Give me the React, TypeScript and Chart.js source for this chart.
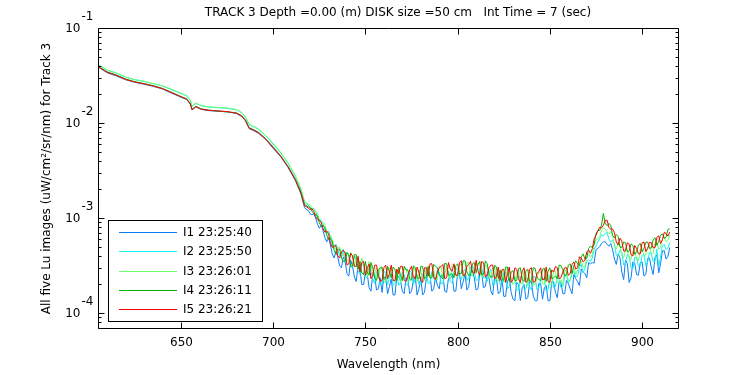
import React, { useEffect, useRef } from "react";
import { Chart, registerables } from "chart.js";

Chart.register(...registerables);

// ---------- data: main grid ----------
const WAVELENGTHS = [
  605, 610, 615, 620, 625, 630, 635, 640, 645, 650, 653, 655, 656, 658, 661, 665,
  670, 675, 680, 683, 685, 687, 689, 692, 696, 700, 704, 708, 712, 715, 717,
  719, 721, 723, 725, 727, 729, 731, 733, 735, 737,
  739, 741, 743, 745, 747, 749, 751, 753, 755, 757,
  759, 761, 763, 765, 767, 769, 771, 773, 775, 777,
  779, 781, 783, 785, 787, 789, 791, 793, 795, 797,
  799, 801, 803, 805, 807, 809, 811, 813, 815, 817,
  819, 821, 823, 825, 827, 829, 831, 833, 835, 837,
  839, 841, 843, 845, 847, 849, 851, 853, 855, 857,
  859, 861, 863, 865, 867, 869, 871, 873, 875, 877,
  879, 881, 883, 885, 887, 889, 891, 893, 895, 897,
  899, 901, 903, 905, 907, 909, 911, 913, 915,
];

const I1_LU = [
  0.0390, 0.0338, 0.0312, 0.0285, 0.0268, 0.0256, 0.0243, 0.0228, 0.0206, 0.0187, 0.0177, 0.0158, 0.0137, 0.0148, 0.0139, 0.0135,
  0.0133, 0.0131, 0.0126, 0.0117, 0.0105, 0.0087, 0.0084, 0.0078, 0.0067, 0.0054, 0.00443, 0.00342, 0.00248, 0.00180, 0.00128,
  1.2e-3, 1.08e-3, 1.0e-3, 7.8e-4, 7.35e-4, 5.6e-4, 5.2e-4, 3.8e-4, 3.9e-4, 3.0e-4,
  3.55e-4, 2.45e-4, 3.1e-4, 2.15e-4, 2.95e-4, 2.0e-4, 2.55e-4, 1.7e-4, 2.5e-4, 1.8e-4,
  1.65e-4, 2.35e-4, 1.9e-4, 1.55e-4, 2.4e-4, 2.2e-4, 1.6e-4, 2.3e-4, 1.7e-4, 2.45e-4,
  1.8e-4, 1.55e-4, 2.3e-4, 2.5e-4, 1.8e-4, 1.95e-4, 2.5e-4, 1.7e-4, 2.3e-4, 2.5e-4,
  1.7e-4, 2.6e-4, 2.15e-4, 1.75e-4, 2.7e-4, 2.35e-4, 1.8e-4, 2.65e-4, 1.9e-4, 2.35e-4,
  1.55e-4, 2.35e-4, 1.65e-4, 1.5e-4, 2.15e-4, 1.65e-4, 1.35e-4, 2.0e-4, 1.85e-4, 1.4e-4,
  2.1e-4, 1.5e-4, 1.35e-4, 2.05e-4, 1.85e-4, 1.35e-4, 2.15e-4, 1.65e-4, 2.15e-4, 1.6e-4,
  2.2e-4, 1.8e-4, 2.55e-4, 2.15e-4, 2.9e-4, 2.6e-4, 3.4e-4, 3.4e-4, 4.65e-4, 5.0e-4,
  5.6e-4, 5.3e-4, 5.4e-4, 3.7e-4, 4.2e-4, 2.7e-4, 3.6e-4, 2.1e-4, 3.45e-4, 2.55e-4,
  3.4e-4, 2.45e-4, 3.75e-4, 3.0e-4, 3.85e-4, 2.65e-4, 4.5e-4, 3.7e-4, 4.9e-4,
];

const I2_LU = [
  0.0408, 0.0360, 0.0335, 0.0303, 0.0285, 0.0274, 0.0259, 0.0245, 0.0224, 0.0204, 0.0194, 0.0174, 0.0150, 0.0161, 0.0152, 0.0147,
  0.0145, 0.0143, 0.0138, 0.0128, 0.0115, 0.0096, 0.0092, 0.0086, 0.0073, 0.0060, 0.00486, 0.00376, 0.00275, 0.00200, 0.00146,
  1.37e-3, 1.25e-3, 1.16e-3, 9.3e-4, 8.7e-4, 6.9e-4, 6.4e-4, 4.8e-4, 4.7e-4, 3.9e-4,
  3.4e-4, 4.0e-4, 3.1e-4, 3.55e-4, 2.55e-4, 3.25e-4, 2.35e-4, 2.75e-4, 2.05e-4, 2.7e-4,
  2.0e-4, 2.65e-4, 2.4e-4, 1.95e-4, 2.75e-4, 2.1e-4, 2.55e-4, 1.95e-4, 2.7e-4, 2.3e-4,
  2.0e-4, 2.6e-4, 2.75e-4, 2.1e-4, 2.3e-4, 2.85e-4, 2.05e-4, 2.65e-4, 2.75e-4, 2.05e-4,
  2.9e-4, 2.35e-4, 2.75e-4, 2.2e-4, 3.05e-4, 2.85e-4, 2.25e-4, 3.1e-4, 2.4e-4, 2.65e-4,
  1.95e-4, 2.6e-4, 2.0e-4, 2.65e-4, 1.8e-4, 2.2e-4, 2.4e-4, 1.75e-4, 2.3e-4, 1.8e-4,
  1.9e-4, 2.45e-4, 1.75e-4, 2.25e-4, 2.35e-4, 1.75e-4, 2.5e-4, 1.9e-4, 2.25e-4, 1.9e-4,
  2.6e-4, 2.25e-4, 2.75e-4, 2.45e-4, 3.25e-4, 2.95e-4, 3.65e-4, 3.8e-4, 5.1e-4, 6.1e-4,
  6.5e-4, 7.0e-4, 5.6e-4, 5.4e-4, 4.05e-4, 4.35e-4, 3.35e-4, 4.0e-4, 2.95e-4, 3.85e-4,
  3.15e-4, 4.15e-4, 3.45e-4, 4.2e-4, 3.5e-4, 3.1e-4, 5.15e-4, 4.65e-4, 5.55e-4,
];

const I3_LU = [
  0.0412, 0.0362, 0.0336, 0.0305, 0.0286, 0.0276, 0.0260, 0.0246, 0.0226, 0.0206, 0.0195, 0.0175, 0.0151, 0.0162, 0.0153, 0.0148,
  0.0146, 0.0144, 0.0139, 0.0129, 0.0116, 0.0097, 0.0093, 0.0087, 0.0074, 0.0061, 0.00492, 0.00382, 0.00280, 0.00205, 0.00150,
  1.40e-3, 1.29e-3, 1.18e-3, 9.7e-4, 9.0e-4, 7.3e-4, 6.6e-4, 5.0e-4, 4.9e-4, 4.2e-4,
  4.4e-4, 3.6e-4, 3.9e-4, 4.0e-4, 2.9e-4, 3.35e-4, 2.45e-4, 3.3e-4, 2.65e-4, 2.3e-4,
  2.9e-4, 2.15e-4, 3.0e-4, 2.25e-4, 2.6e-4, 2.1e-4, 3.05e-4, 2.4e-4, 2.2e-4, 2.9e-4,
  2.75e-4, 2.15e-4, 3.0e-4, 2.45e-4, 2.8e-4, 2.25e-4, 3.05e-4, 2.65e-4, 2.35e-4, 3.2e-4,
  2.5e-4, 3.2e-4, 2.4e-4, 3.4e-4, 2.55e-4, 3.0e-4, 3.3e-4, 2.4e-4, 3.15e-4, 2.4e-4,
  3.0e-4, 2.25e-4, 2.6e-4, 2.1e-4, 2.95e-4, 2.3e-4, 2.1e-4, 2.75e-4, 2.05e-4, 2.65e-4,
  2.75e-4, 2.0e-4, 2.35e-4, 2.7e-4, 2.0e-4, 2.6e-4, 2.0e-4, 2.75e-4, 2.1e-4, 1.95e-4,
  2.7e-4, 2.2e-4, 3.0e-4, 2.85e-4, 3.5e-4, 3.1e-4, 4.25e-4, 4.15e-4, 5.9e-4, 6.3e-4,
  7.9e-4, 7.2e-4, 7.2e-4, 5.15e-4, 5.5e-4, 4.1e-4, 4.9e-4, 3.8e-4, 4.5e-4, 3.8e-4,
  4.7e-4, 4.0e-4, 4.95e-4, 4.2e-4, 5.5e-4, 4.7e-4, 6.05e-4, 5.6e-4, 6.6e-4,
];

const I4_LU = [
  0.0395, 0.0345, 0.0320, 0.0290, 0.0272, 0.0260, 0.0247, 0.0231, 0.0210, 0.0190, 0.0180, 0.0161, 0.0140, 0.0150, 0.0141, 0.0137,
  0.0134, 0.0131, 0.0128, 0.0119, 0.0107, 0.0089, 0.0086, 0.0080, 0.0068, 0.0056, 0.00452, 0.00350, 0.00256, 0.00188, 0.00138,
  1.31e-3, 1.18e-3, 1.10e-3, 8.9e-4, 8.4e-4, 6.65e-4, 6.1e-4, 4.6e-4, 4.7e-4, 3.8e-4,
  3.5e-4, 4.1e-4, 3.1e-4, 4.1e-4, 3.5e-4, 2.55e-4, 2.7e-4, 3.4e-4, 2.35e-4, 2.85e-4,
  3.05e-4, 2.35e-4, 2.7e-4, 3.05e-4, 2.2e-4, 2.5e-4, 3.1e-4, 2.85e-4, 2.25e-4, 3.0e-4,
  2.3e-4, 3.1e-4, 2.4e-4, 2.35e-4, 3.25e-4, 3.0e-4, 2.4e-4, 3.35e-4, 2.5e-4, 2.6e-4,
  3.15e-4, 2.6e-4, 3.55e-4, 2.7e-4, 2.5e-4, 3.4e-4, 3.25e-4, 2.55e-4, 3.55e-4, 2.55e-4,
  2.4e-4, 3.05e-4, 2.85e-4, 2.2e-4, 3.05e-4, 2.7e-4, 2.2e-4, 2.95e-4, 2.25e-4, 2.8e-4,
  2.15e-4, 3.0e-4, 2.4e-4, 2.2e-4, 2.95e-4, 2.75e-4, 2.3e-4, 2.45e-4, 3.2e-4, 2.85e-4,
  2.55e-4, 3.3e-4, 3.15e-4, 3.3e-4, 3.9e-4, 3.7e-4, 4.8e-4, 4.9e-4, 6.9e-4, 7.4e-4,
  1.12e-3, 8.3e-4, 8.4e-4, 6.2e-4, 6.4e-4, 4.9e-4, 5.5e-4, 4.5e-4, 5.15e-4, 4.4e-4,
  5.4e-4, 4.8e-4, 5.6e-4, 4.85e-4, 6.2e-4, 5.7e-4, 6.8e-4, 6.3e-4, 7.7e-4,
];

const I5_LU = [
  0.0392, 0.0342, 0.0318, 0.0288, 0.0270, 0.0259, 0.0245, 0.0230, 0.0208, 0.0189, 0.0179, 0.0160, 0.0138, 0.0149, 0.0140, 0.0136,
  0.0134, 0.0132, 0.0127, 0.0118, 0.0106, 0.0088, 0.0085, 0.0079, 0.00675, 0.0055, 0.00448, 0.00347, 0.00253, 0.00185, 0.00135,
  1.28e-3, 1.26e-3, 1.04e-3, 9.5e-4, 7.8e-4, 7.3e-4, 5.5e-4, 5.1e-4, 4.0e-4, 4.4e-4,
  4.3e-4, 3.3e-4, 4.0e-4, 3.1e-4, 2.7e-4, 3.5e-4, 3.0e-4, 2.3e-4, 3.2e-4, 2.5e-4,
  2.2e-4, 3.2e-4, 2.6e-4, 2.2e-4, 2.9e-4, 3.1e-4, 2.2e-4, 2.5e-4, 3.1e-4, 2.3e-4,
  2.7e-4, 2.1e-4, 3.0e-4, 3.3e-4, 2.4e-4, 2.7e-4, 3.1e-4, 2.3e-4, 3.4e-4, 2.75e-4,
  2.5e-4, 3.4e-4, 2.5e-4, 3.1e-4, 3.5e-4, 2.6e-4, 2.8e-4, 3.5e-4, 2.4e-4, 3.0e-4,
  3.2e-4, 2.4e-4, 2.2e-4, 2.9e-4, 2.55e-4, 2.1e-4, 3.0e-4, 2.3e-4, 2.75e-4, 2.1e-4,
  2.9e-4, 2.1e-4, 2.6e-4, 3.0e-4, 2.25e-4, 2.15e-4, 2.85e-4, 3.1e-4, 2.3e-4, 2.7e-4,
  3.0e-4, 2.6e-4, 3.45e-4, 3.0e-4, 3.8e-4, 3.6e-4, 4.6e-4, 4.75e-4, 6.6e-4, 8.0e-4,
  8.4e-4, 9.5e-4, 7.6e-4, 7.0e-4, 5.2e-4, 5.7e-4, 4.5e-4, 5.3e-4, 4.0e-4, 4.8e-4,
  4.2e-4, 5.6e-4, 4.75e-4, 5.5e-4, 4.9e-4, 6.5e-4, 5.9e-4, 6.9e-4, 7.1e-4,
];

// ---------- data: in-between samples of the noisy part ----------
const WAVELENGTHS_B = [
  720, 722, 724, 726, 728, 730, 732, 734, 736, 738,
  740, 742, 744, 746, 748, 750, 752, 754, 756, 758,
  760, 762, 764, 766, 768, 770, 772, 774, 776, 778,
  780, 782, 784, 786, 788, 790, 792, 794, 796, 798,
  800, 802, 804, 806, 808, 810, 812, 814, 816, 818,
  820, 822, 824, 826, 828, 830, 832, 834, 836, 838,
  840, 842, 844, 846, 848, 850, 852, 854, 856, 858,
  860, 862, 864, 866, 868, 870, 872, 874, 876, 878,
  880, 882, 884, 886, 888, 890, 892, 894, 896, 898,
  900, 902, 904, 906, 908, 910, 912, 914,
];

const I1_LU_B = [
  1.11e-3, 1.11e-3, 8.6e-4, 8.45e-4, 6.25e-4, 6.25e-4, 4.2e-4, 4.5e-4, 3.15e-4, 3.9e-4,
  2.6e-4, 3.6e-4, 2.4e-4, 3.2e-4, 2.0e-4, 2.7e-4, 1.85e-4, 2.6e-4, 1.75e-4, 2.35e-4,
  2.4e-4, 1.6e-4, 2.3e-4, 1.55e-4, 2.45e-4, 1.7e-4, 2.35e-4, 1.6e-4, 2.2e-4, 1.55e-4,
  2.4e-4, 1.65e-4, 2.5e-4, 1.7e-4, 2.4e-4, 1.8e-4, 2.5e-4, 1.65e-4, 2.35e-4, 1.7e-4,
  2.65e-4, 1.8e-4, 2.6e-4, 1.9e-4, 2.75e-4, 1.75e-4, 2.65e-4, 1.85e-4, 2.55e-4, 1.7e-4,
  2.4e-4, 1.6e-4, 2.3e-4, 1.5e-4, 2.35e-4, 1.4e-4, 2.1e-4, 1.35e-4, 2.0e-4, 1.45e-4,
  2.15e-4, 1.35e-4, 2.05e-4, 1.4e-4, 1.95e-4, 1.35e-4, 2.15e-4, 1.45e-4, 2.1e-4, 1.6e-4,
  2.05e-4, 1.6e-4, 2.3e-4, 1.95e-4, 2.7e-4, 2.35e-4, 3.3e-4, 3.35e-4, 4.8e-4, 5.4e-4,
  5.65e-4, 5.05e-4, 4.65e-4, 3.25e-4, 3.85e-4, 2.25e-4, 3.3e-4, 2.35e-4, 3.35e-4, 2.5e-4,
  3.45e-4, 2.55e-4, 3.8e-4, 2.55e-4, 4.1e-4, 3.3e-4, 4.55e-4, 3.95e-4,
];

const I2_LU_B = [
  1.29e-3, 1.26e-3, 1.01e-3, 9.6e-4, 7.5e-4, 7.3e-4, 5.2e-4, 5.3e-4, 4.0e-4, 4.7e-4,
  4.35e-4, 3.05e-4, 4.0e-4, 2.8e-4, 3.3e-4, 2.4e-4, 3.15e-4, 2.3e-4, 2.75e-4, 2.0e-4,
  2.75e-4, 2.0e-4, 2.6e-4, 2.05e-4, 1.95e-4, 2.7e-4, 2.05e-4, 2.8e-4, 2.0e-4, 2.55e-4,
  2.0e-4, 2.75e-4, 2.05e-4, 2.75e-4, 2.15e-4, 2.7e-4, 2.05e-4, 2.9e-4, 2.15e-4, 2.75e-4,
  2.95e-4, 2.25e-4, 2.9e-4, 2.35e-4, 3.1e-4, 2.2e-4, 3.0e-4, 2.35e-4, 2.15e-4, 2.9e-4,
  2.0e-4, 2.65e-4, 2.05e-4, 2.7e-4, 1.9e-4, 2.35e-4, 1.75e-4, 2.45e-4, 1.8e-4, 2.3e-4,
  1.75e-4, 2.4e-4, 1.85e-4, 2.25e-4, 1.7e-4, 2.5e-4, 1.85e-4, 2.45e-4, 1.85e-4, 2.4e-4,
  2.05e-4, 2.6e-4, 2.4e-4, 3.0e-4, 2.65e-4, 3.5e-4, 3.5e-4, 4.7e-4, 5.6e-4, 6.65e-4,
  6.9e-4, 6.0e-4, 5.85e-4, 4.05e-4, 4.6e-4, 3.2e-4, 4.15e-4, 3.0e-4, 3.85e-4, 3.1e-4,
  4.05e-4, 3.15e-4, 4.35e-4, 3.5e-4, 4.7e-4, 3.85e-4, 5.3e-4, 4.85e-4,
];

const I3_LU_B = [
  1.38e-3, 1.19e-3, 1.12e-3, 8.9e-4, 8.5e-4, 6.55e-4, 6.0e-4, 4.6e-4, 4.95e-4, 3.95e-4,
  3.6e-4, 4.35e-4, 3.05e-4, 3.85e-4, 3.8e-4, 2.7e-4, 3.5e-4, 2.4e-4, 3.0e-4, 3.0e-4,
  2.15e-4, 3.0e-4, 2.5e-4, 2.15e-4, 2.95e-4, 2.25e-4, 2.9e-4, 2.2e-4, 3.05e-4, 2.15e-4,
  2.8e-4, 2.2e-4, 3.1e-4, 2.4e-4, 2.25e-4, 3.15e-4, 2.4e-4, 3.05e-4, 2.3e-4, 3.2e-4,
  2.4e-4, 3.3e-4, 2.55e-4, 3.4e-4, 2.45e-4, 3.2e-4, 3.35e-4, 2.4e-4, 3.15e-4, 2.35e-4,
  3.05e-4, 2.15e-4, 2.8e-4, 2.2e-4, 2.95e-4, 2.0e-4, 2.65e-4, 2.05e-4, 2.75e-4, 1.95e-4,
  2.6e-4, 2.0e-4, 2.7e-4, 2.05e-4, 2.55e-4, 2.0e-4, 2.8e-4, 2.1e-4, 2.25e-4, 2.9e-4,
  2.2e-4, 2.85e-4, 2.55e-4, 3.3e-4, 3.05e-4, 3.85e-4, 3.85e-4, 5.2e-4, 6.15e-4, 7.45e-4,
  7.65e-4, 6.8e-4, 6.55e-4, 4.7e-4, 5.25e-4, 3.8e-4, 4.6e-4, 3.65e-4, 4.35e-4, 3.55e-4,
  4.75e-4, 4.1e-4, 5.1e-4, 4.25e-4, 5.55e-4, 4.95e-4, 6.35e-4, 5.8e-4,
];

const I4_LU_B = [
  1.29e-3, 1.11e-3, 1.05e-3, 8.2e-4, 7.95e-4, 5.95e-4, 5.7e-4, 4.15e-4, 4.7e-4, 3.5e-4,
  4.35e-4, 3.1e-4, 4.15e-4, 2.9e-4, 2.65e-4, 3.5e-4, 2.5e-4, 3.0e-4, 2.2e-4, 3.0e-4,
  2.25e-4, 3.1e-4, 2.35e-4, 2.9e-4, 3.05e-4, 2.2e-4, 2.85e-4, 2.3e-4, 3.15e-4, 2.35e-4,
  3.1e-4, 2.3e-4, 3.1e-4, 2.35e-4, 3.1e-4, 2.5e-4, 2.3e-4, 3.3e-4, 2.55e-4, 2.35e-4,
  3.3e-4, 2.6e-4, 3.55e-4, 2.5e-4, 3.3e-4, 2.65e-4, 3.5e-4, 2.55e-4, 3.3e-4, 2.4e-4,
  3.2e-4, 2.3e-4, 2.35e-4, 3.05e-4, 2.15e-4, 2.8e-4, 2.2e-4, 3.0e-4, 2.15e-4, 2.9e-4,
  2.2e-4, 2.95e-4, 2.25e-4, 2.9e-4, 2.15e-4, 3.0e-4, 2.35e-4, 2.3e-4, 3.15e-4, 2.45e-4,
  3.2e-4, 2.6e-4, 3.55e-4, 3.15e-4, 4.2e-4, 3.8e-4, 5.05e-4, 5.3e-4, 7.35e-4, 8.45e-4,
  8.8e-4, 8.8e-4, 6.55e-4, 6.7e-4, 4.95e-4, 5.6e-4, 4.4e-4, 5.35e-4, 4.15e-4, 5.2e-4,
  4.4e-4, 5.55e-4, 4.8e-4, 5.9e-4, 5.15e-4, 6.6e-4, 6.1e-4, 7.6e-4,
];

const I5_LU_B = [
  1.22e-3, 1.17e-3, 9.6e-4, 9.0e-4, 7.1e-4, 6.9e-4, 4.9e-4, 5.1e-4, 3.8e-4, 4.6e-4,
  3.2e-4, 4.25e-4, 3.1e-4, 3.95e-4, 3.4e-4, 2.5e-4, 3.3e-4, 2.5e-4, 3.2e-4, 2.15e-4,
  3.0e-4, 2.3e-4, 3.2e-4, 2.2e-4, 2.6e-4, 3.1e-4, 2.15e-4, 2.85e-4, 2.35e-4, 3.05e-4,
  2.2e-4, 3.0e-4, 2.45e-4, 3.3e-4, 2.25e-4, 3.0e-4, 3.25e-4, 2.35e-4, 2.9e-4, 3.3e-4,
  2.5e-4, 3.55e-4, 2.5e-4, 3.25e-4, 2.7e-4, 3.6e-4, 2.5e-4, 3.4e-4, 2.55e-4, 3.2e-4,
  2.3e-4, 3.05e-4, 2.85e-4, 2.1e-4, 3.05e-4, 2.25e-4, 2.9e-4, 2.1e-4, 3.0e-4, 2.2e-4,
  3.0e-4, 2.15e-4, 2.75e-4, 2.25e-4, 3.05e-4, 2.1e-4, 2.7e-4, 3.0e-4, 2.35e-4, 3.0e-4,
  2.5e-4, 3.25e-4, 2.9e-4, 3.9e-4, 3.45e-4, 4.4e-4, 4.25e-4, 6.05e-4, 7.35e-4, 7.9e-4,
  9.45e-4, 8.0e-4, 7.65e-4, 5.6e-4, 6.15e-4, 4.5e-4, 5.5e-4, 4.1e-4, 5.15e-4, 4.2e-4,
  5.5e-4, 4.45e-4, 5.55e-4, 4.85e-4, 6.25e-4, 5.4e-4, 7.05e-4, 6.45e-4,
];

const SERIES_LABELS = ["I1 23:25:40", "I2 23:25:50", "I3 23:26:01", "I4 23:26:11", "I5 23:26:21"];
const SERIES_VALUES = [I1_LU, I2_LU, I3_LU, I4_LU, I5_LU];
const SERIES_VALUES_B = [I1_LU_B, I2_LU_B, I3_LU_B, I4_LU_B, I5_LU_B];
const SERIES_COLORS = ["#0a7ff5", "#12f0f0", "#6cff6c", "#00b400", "#ff0000"];

const X_TICKS = [650, 700, 750, 800, 850, 900];
const Y_DECADES = [-5, -4, -3, -2, -1];
const Y_LABELED_DECADES = [-4, -3, -2, -1];
const MINOR_MULTS = [2, 3, 4, 5, 6, 7, 8, 9];

const X_MIN = 605;
const X_MAX = 920;
const Y_MIN = 6.8e-5;
const Y_MAX = 0.1;

const TITLE = "TRACK 3 Depth =0.00 (m) DISK size =50 cm   Int Time = 7 (sec)";
const X_LABEL = "Wavelength (nm)";
const Y_LABEL = "All five Lu images (uW/cm\u00B2/sr/nm) for Track 3";

const FONT = '12px "DejaVu Sans", "Liberation Sans", sans-serif';

const decorPlugin = {
  id: "matlabDecor",
  afterDraw(chart: any) {
    const { ctx, chartArea: a, scales } = chart;
    const xs = scales.x;
    const ys = scales.y;
    const L = Math.round(a.left) + 0.5;
    const R = Math.round(a.right) - 0.5;
    const T = Math.round(a.top) + 0.5;
    const B = Math.round(a.bottom) - 0.5;
    ctx.save();
    ctx.strokeStyle = "#000";
    ctx.fillStyle = "#000";
    ctx.lineWidth = 1;
    ctx.font = FONT;

    // box
    ctx.beginPath();
    ctx.rect(L, T, R - L, B - T);
    ctx.stroke();

    // x ticks
    ctx.textAlign = "center";
    ctx.textBaseline = "middle";
    for (const v of X_TICKS) {
      const px = Math.round(xs.getPixelForValue(v)) + 0.5;
      ctx.beginPath();
      ctx.moveTo(px, B);
      ctx.lineTo(px, B - 6);
      ctx.moveTo(px, T);
      ctx.lineTo(px, T + 6);
      ctx.stroke();
      ctx.fillText(String(v), px, B + 14);
    }

    // y ticks
    for (const d of Y_DECADES) {
      const base = Math.pow(10, d);
      const mults = [1, ...MINOR_MULTS];
      for (const m of mults) {
        const v = m * base;
        if (v < Y_MIN || v > Y_MAX * 1.0001) continue;
        const py = Math.round(ys.getPixelForValue(v)) + 0.5;
        const len = m === 1 ? 6 : 3;
        ctx.beginPath();
        ctx.moveTo(L, py);
        ctx.lineTo(L + len, py);
        ctx.moveTo(R, py);
        ctx.lineTo(R - len, py);
        ctx.stroke();
      }
    }
    for (const d of Y_LABELED_DECADES) {
      const py = Math.round(ys.getPixelForValue(Math.pow(10, d)));
      ctx.textAlign = "right";
      ctx.textBaseline = "middle";
      ctx.fillText("10", L - 18, py + 1);
      ctx.textAlign = "left";
      ctx.fillText(String(d), L - 17, py - 11);
    }

    // title
    ctx.textAlign = "center";
    ctx.textBaseline = "middle";
    ctx.fillText(TITLE, 398, 13);
    // x label
    ctx.fillText(X_LABEL, (a.left + a.right) / 2, 365);
    // y label
    ctx.save();
    ctx.translate(47, (a.top + a.bottom) / 2);
    ctx.rotate(-Math.PI / 2);
    ctx.fillText(Y_LABEL, 0, 0);
    ctx.restore();

    // legend
    const lx = Math.round(a.left) + 10;
    const ly = Math.round(a.top) + 192;
    const lw = 154;
    const lh = 101;
    ctx.fillStyle = "#fff";
    ctx.fillRect(lx, ly, lw, lh);
    ctx.strokeStyle = "#000";
    ctx.strokeRect(lx + 0.5, ly + 0.5, lw, lh);
    ctx.textAlign = "left";
    ctx.textBaseline = "middle";
    SERIES_LABELS.forEach((label, i) => {
      const yy = Math.round(ly + 12 + i * 19.3);
      ctx.fillStyle = SERIES_COLORS[i];
      ctx.fillRect(lx + 11, yy, 58, 1);
      ctx.fillStyle = "#000";
      ctx.fillText(label, lx + 75, yy + 1);
    });

    ctx.restore();
  },
};

export default function App() {
  const canvasRef = useRef<HTMLCanvasElement | null>(null);

  useEffect(() => {
    const canvas = canvasRef.current;
    if (!canvas) return;
    const datasets = SERIES_VALUES.map((vals, i) => {
      const pts = WAVELENGTHS.map((w, j) => ({ x: w, y: vals[j] }));
      const extra = WAVELENGTHS_B.map((w, j) => ({ x: w, y: SERIES_VALUES_B[i][j] }));
      const data = pts.concat(extra).sort((p, q) => p.x - q.x);
      return {
        label: SERIES_LABELS[i],
        data,
        borderColor: SERIES_COLORS[i],
        backgroundColor: SERIES_COLORS[i],
        borderWidth: 1,
        pointRadius: 0,
        tension: 0,
        fill: false,
        order: SERIES_VALUES.length - i,
      };
    });
    const chart = new Chart(canvas, {
      type: "line",
      data: { datasets },
      options: {
        animation: false,
        responsive: false,
        devicePixelRatio: 1,
        layout: { padding: { left: 98, right: 71, top: 28, bottom: 46 } },
        plugins: {
          legend: { display: false },
          title: { display: false },
          tooltip: { enabled: false },
        },
        scales: {
          x: { type: "linear", min: X_MIN, max: X_MAX, display: false },
          y: { type: "logarithmic", min: Y_MIN, max: Y_MAX, display: false },
        },
      },
      plugins: [decorPlugin],
    });
    return () => chart.destroy();
  }, []);

  return (
    <div style={{ position: "absolute", left: 0, top: 0, width: 750, height: 375, background: "#fff" }}>
      <canvas ref={canvasRef} width={750} height={375} />
    </div>
  );
}
